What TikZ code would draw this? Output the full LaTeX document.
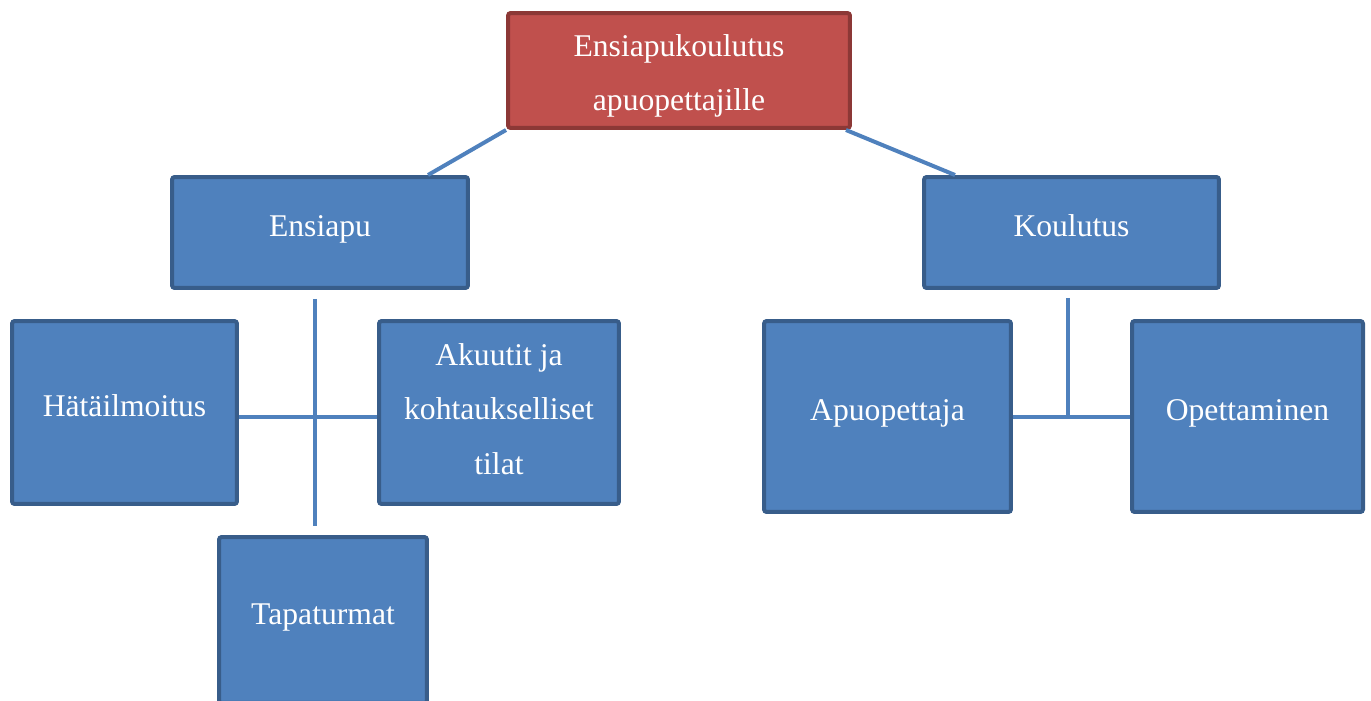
\documentclass[tikz,border=0pt]{standalone}
\usepackage{fontspec}
\setmainfont{Liberation Serif}
\usepackage{xcolor}
\usetikzlibrary{positioning}
\usetikzlibrary{calc}
\definecolor{boxblue}{HTML}{4F81BD}
\definecolor{boxedge}{HTML}{385D8A}
\definecolor{boxred}{HTML}{C0504D}
\definecolor{rededge}{HTML}{8C3836}

\begin{document}
\begin{tikzpicture}[x=0.02cm, y=-0.02cm,
		box/.style={draw=boxedge, fill=boxblue, line width=0.08cm, rounded corners=1.5pt, text=white, align=center, inner sep=0pt, font=\fontsize{18}{31}\selectfont},
		onebox/.style={box, text height=12.4pt, text depth=7.6pt},
		topbox/.style={box, draw=rededge, fill=boxred, font=\fontsize{18}{31.2}\selectfont},
		link/.style={draw=boxblue, line width=0.08cm}]
			\useasboundingbox (0,0) rectangle (1371,700);
			
			%top
			\node[topbox, minimum width=6.84cm, minimum height=2.30cm, text height=46.5pt, text depth=0.6pt] (koulutus0) at (679,70.5) {Ensiapukoulutus\\apuopettajille};
			
			%second row
			\node[onebox, minimum width=5.92cm, minimum height=2.22cm] (ensiapu) at (320,232.5) {Ensiapu};
			\node[onebox, minimum width=5.90cm, minimum height=2.22cm] (koulutus) at (1071.5,232.5) {Koulutus};
			
			%first aid branch
			\node[onebox, minimum width=4.50cm, minimum height=3.66cm] (hata) at (124.5,412.5) {Hätäilmoitus};
			\node[box, minimum width=4.80cm, minimum height=3.66cm, text height=71pt, text depth=0.6pt] (akuutit) at (499,412.5) {Akuutit ja\\kohtaukselliset\\tilat};
			\node[onebox, minimum width=4.16cm, minimum height=3.32cm] (tapa) at (323,620) {Tapaturmat};
			
			%training branch
			\node[onebox, minimum width=4.94cm, minimum height=3.82cm] (apuope) at (887.5,416.5) {Apuopettaja};
			\node[onebox, minimum width=4.62cm, minimum height=3.82cm] (opetus) at (1247.5,416.5) {Opettaminen};
			
			% add links
			\draw[link] (koulutus0.south west) -- ($(ensiapu.north)+(108,0)$);
			\draw[link] ([xshift=-0.12cm]koulutus0.south east) -- ($(koulutus.north)+(-116.5,0)$);
			
			\coordinate (ea1) at ($(ensiapu.south)+(-5,9)$);
			\coordinate (ea2) at ($(tapa.north)+(-8,-9)$);
			\draw[link] (ea1) -- (ea2);
			\draw[link] ($(hata.east)+(0,4.5)$) -- ($(akuutit.west)+(0,4.5)$);
			
			\coordinate (ko1) at ($(koulutus.south)+(-3.5,8)$);
			\draw[link] (ko1) -- (ko1 |- apuope.east);
			\draw[link] (apuope.east) -- (opetus.west);
			
		\end{tikzpicture}
\end{document}
